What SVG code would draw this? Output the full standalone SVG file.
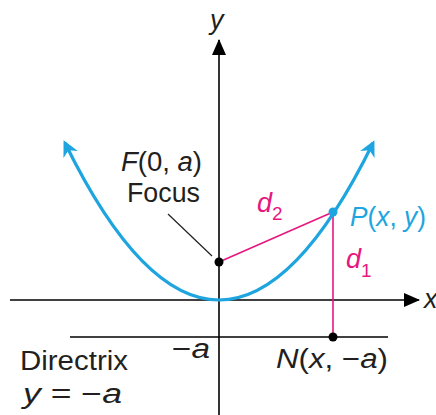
<svg xmlns="http://www.w3.org/2000/svg" width="436" height="415" viewBox="0 0 436 415">
<style>
.ax{stroke:#000;stroke-width:1.6;fill:none}
.t{font-family:"Liberation Sans","Arimo",sans-serif;font-size:27px;fill:#231f20}
.pk{stroke:#e6177f;stroke-width:1.6;fill:none}
.pkt{fill:#e6177f}
.bl{fill:#1ea5e0}
.it{font-style:italic}
.sub{font-size:19px}
</style>
<defs>
<marker id="ah" viewBox="0 0 16 14" refX="15" refY="7" markerWidth="16" markerHeight="14" markerUnits="userSpaceOnUse" orient="auto"><path d="M0,0 L16,7 L0,14 Z" fill="#000"/></marker>
<marker id="bh" viewBox="0 0 10 10" refX="8" refY="5" markerWidth="5" markerHeight="5" orient="auto-start-reverse"><path d="M0,0 L10,5 L0,10 L3,5 Z" fill="#1ea5e0"/></marker>
</defs>
<g id="connectors">
<line class="ax" x1="10" y1="300" x2="419" y2="300" marker-end="url(#ah)"/>
<line class="ax" x1="219" y1="415" x2="219" y2="40" marker-end="url(#ah)"/>
<line class="ax" x1="70" y1="337" x2="388" y2="337"/>
<line x1="168" y1="214" x2="212" y2="256" stroke="#231f20" stroke-width="1.2"/>
<line class="pk" x1="219" y1="262" x2="333" y2="212"/>
<line class="pk" x1="333" y1="212" x2="333" y2="337"/>
</g>
<g id="parabola">
<path d="M65,143 Q219,457 373,143" fill="none" stroke="#1ea5e0" stroke-width="3.2" marker-start="url(#bh)" marker-end="url(#bh)"/>
</g>
<g id="focus">
<circle cx="219" cy="262" r="4.5" fill="#000"/>
<text class="t" x="121" y="171" textLength="81" lengthAdjust="spacingAndGlyphs"><tspan class="it">F</tspan>(0, <tspan class="it">a</tspan>)</text>
<text class="t" x="127" y="202" textLength="73" lengthAdjust="spacingAndGlyphs">Focus</text>
</g>
<g id="point-p">
<circle cx="333" cy="212" r="4.5" class="bl"/>
<text class="t bl" x="350" y="226" textLength="76" lengthAdjust="spacingAndGlyphs"><tspan class="it">P</tspan>(<tspan class="it">x</tspan>, <tspan class="it">y</tspan>)</text>
</g>
<g id="point-n">
<circle cx="333" cy="337" r="4.5" fill="#000"/>
<text class="t" x="276" y="368" textLength="112" lengthAdjust="spacingAndGlyphs"><tspan class="it">N</tspan>(<tspan class="it">x</tspan>, −<tspan class="it">a</tspan>)</text>
</g>
<g id="labels">
<text class="t pkt" x="257" y="212"><tspan class="it">d</tspan><tspan class="sub" dy="8">2</tspan></text>
<text class="t pkt" x="346" y="268"><tspan class="it">d</tspan><tspan class="sub" dy="9">1</tspan></text>
<text class="t" x="210" y="29" font-style="italic">y</text>
<text class="t" x="424" y="308" font-style="italic">x</text>
<text class="t" x="172" y="358" textLength="38" lengthAdjust="spacingAndGlyphs">−<tspan class="it">a</tspan></text>
<text class="t" x="20" y="370" textLength="108" lengthAdjust="spacingAndGlyphs">Directrix</text>
<text class="t" x="23" y="403" textLength="99" lengthAdjust="spacingAndGlyphs"><tspan class="it">y</tspan> = −<tspan class="it">a</tspan></text>
</g>
</svg>
